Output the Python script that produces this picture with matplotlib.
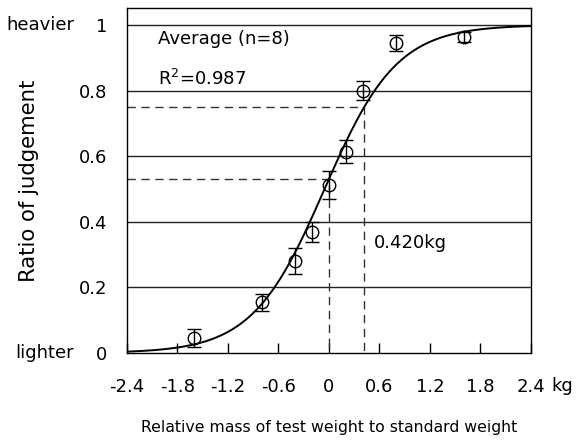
import numpy as np
import matplotlib.pyplot as plt

plt.rcParams['font.family'] = ['DejaVu Sans']

# averaged judgement ratios (n=8)
mass = [-1.6, -0.8, -0.4, -0.2, 0.0, 0.2, 0.4, 0.8, 1.6]
ratio = [0.046, 0.155, 0.28, 0.369, 0.512, 0.613, 0.80, 0.945, 0.963]
err = [0.027, 0.026, 0.04, 0.03, 0.043, 0.035, 0.03, 0.024, 0.015]

# logistic fit
slope = 2.33
offset = 0.12
pse_ratio = 0.53
jnd_mass = 0.42
jnd_ratio = 0.75

xticks = [-2.4, -1.8, -1.2, -0.6, 0, 0.6, 1.2, 1.8, 2.4]
xticklabels = ['-2.4', '-1.8', '-1.2', '-0.6', '0', '0.6', '1.2', '1.8', '2.4']
yticks = [0, 0.2, 0.4, 0.6, 0.8, 1]
yticklabels = ['0', '0.2', '0.4', '0.6', '0.8', '1']

fig = plt.figure(figsize=(5.77, 4.41), dpi=100)
ax = fig.add_axes([0.22, 0.1995, 0.7, 0.7825])

for y in yticks[1:]:
    ax.axhline(y, color='#222222', lw=1.0, zorder=1)

xs = np.linspace(-2.4, 2.4, 300)
ax.plot(xs, 1 / (1 + np.exp(-(slope * xs + offset))), color='black', lw=1.4, zorder=3)

ax.errorbar(mass, ratio, yerr=err, fmt='o', mfc='none', mec='black', ms=9,
            mew=1.0, ecolor='black', elinewidth=1.0, capsize=5, capthick=1.0, zorder=4)

dash = dict(color='#333333', lw=1.0, ls=(0, (6, 4)), zorder=2)
ax.plot([-2.4, 0, 0], [pse_ratio, pse_ratio, 0], **dash)
ax.plot([-2.4, jnd_mass, jnd_mass], [jnd_ratio, jnd_ratio, 0], **dash)

ax.text(jnd_mass + 0.11, 0.335, '0.420kg', fontsize=13, va='center')
ax.text(-2.03, 0.985, 'Average (n=8)', fontsize=13, va='top')
ax.text(-2.03, 0.817, 'R$^2$=0.987', fontsize=13, va='baseline')

ax.set_xlim(-2.4, 2.4)
ax.set_ylim(0, 1.052)
ax.set_xticks(xticks)
ax.set_xticklabels(xticklabels, fontsize=13)
ax.set_yticks(yticks)
ax.set_yticklabels(yticklabels, fontsize=13)
ax.tick_params(axis='x', direction='in', length=7, width=1, pad=18)
ax.tick_params(axis='y', length=0, pad=14)
for s in ax.spines.values():
    s.set_linewidth(1.0)

ax.text(1.05, -0.095, 'kg', transform=ax.transAxes, fontsize=13, va='center', ha='left')
ax.text(-0.131, 1 / 1.052, 'heavier', transform=ax.transAxes, fontsize=13, va='center', ha='right')
ax.text(-0.131, 0, 'lighter', transform=ax.transAxes, fontsize=13, va='center', ha='right')

ax.set_ylabel('Ratio of judgement', fontsize=15.3)
ax.yaxis.set_label_coords(-0.217, 0.5)
ax.set_xlabel('Relative mass of test weight to standard weight', fontsize=11.3, labelpad=17)

fig.savefig('out.png', dpi=100)
